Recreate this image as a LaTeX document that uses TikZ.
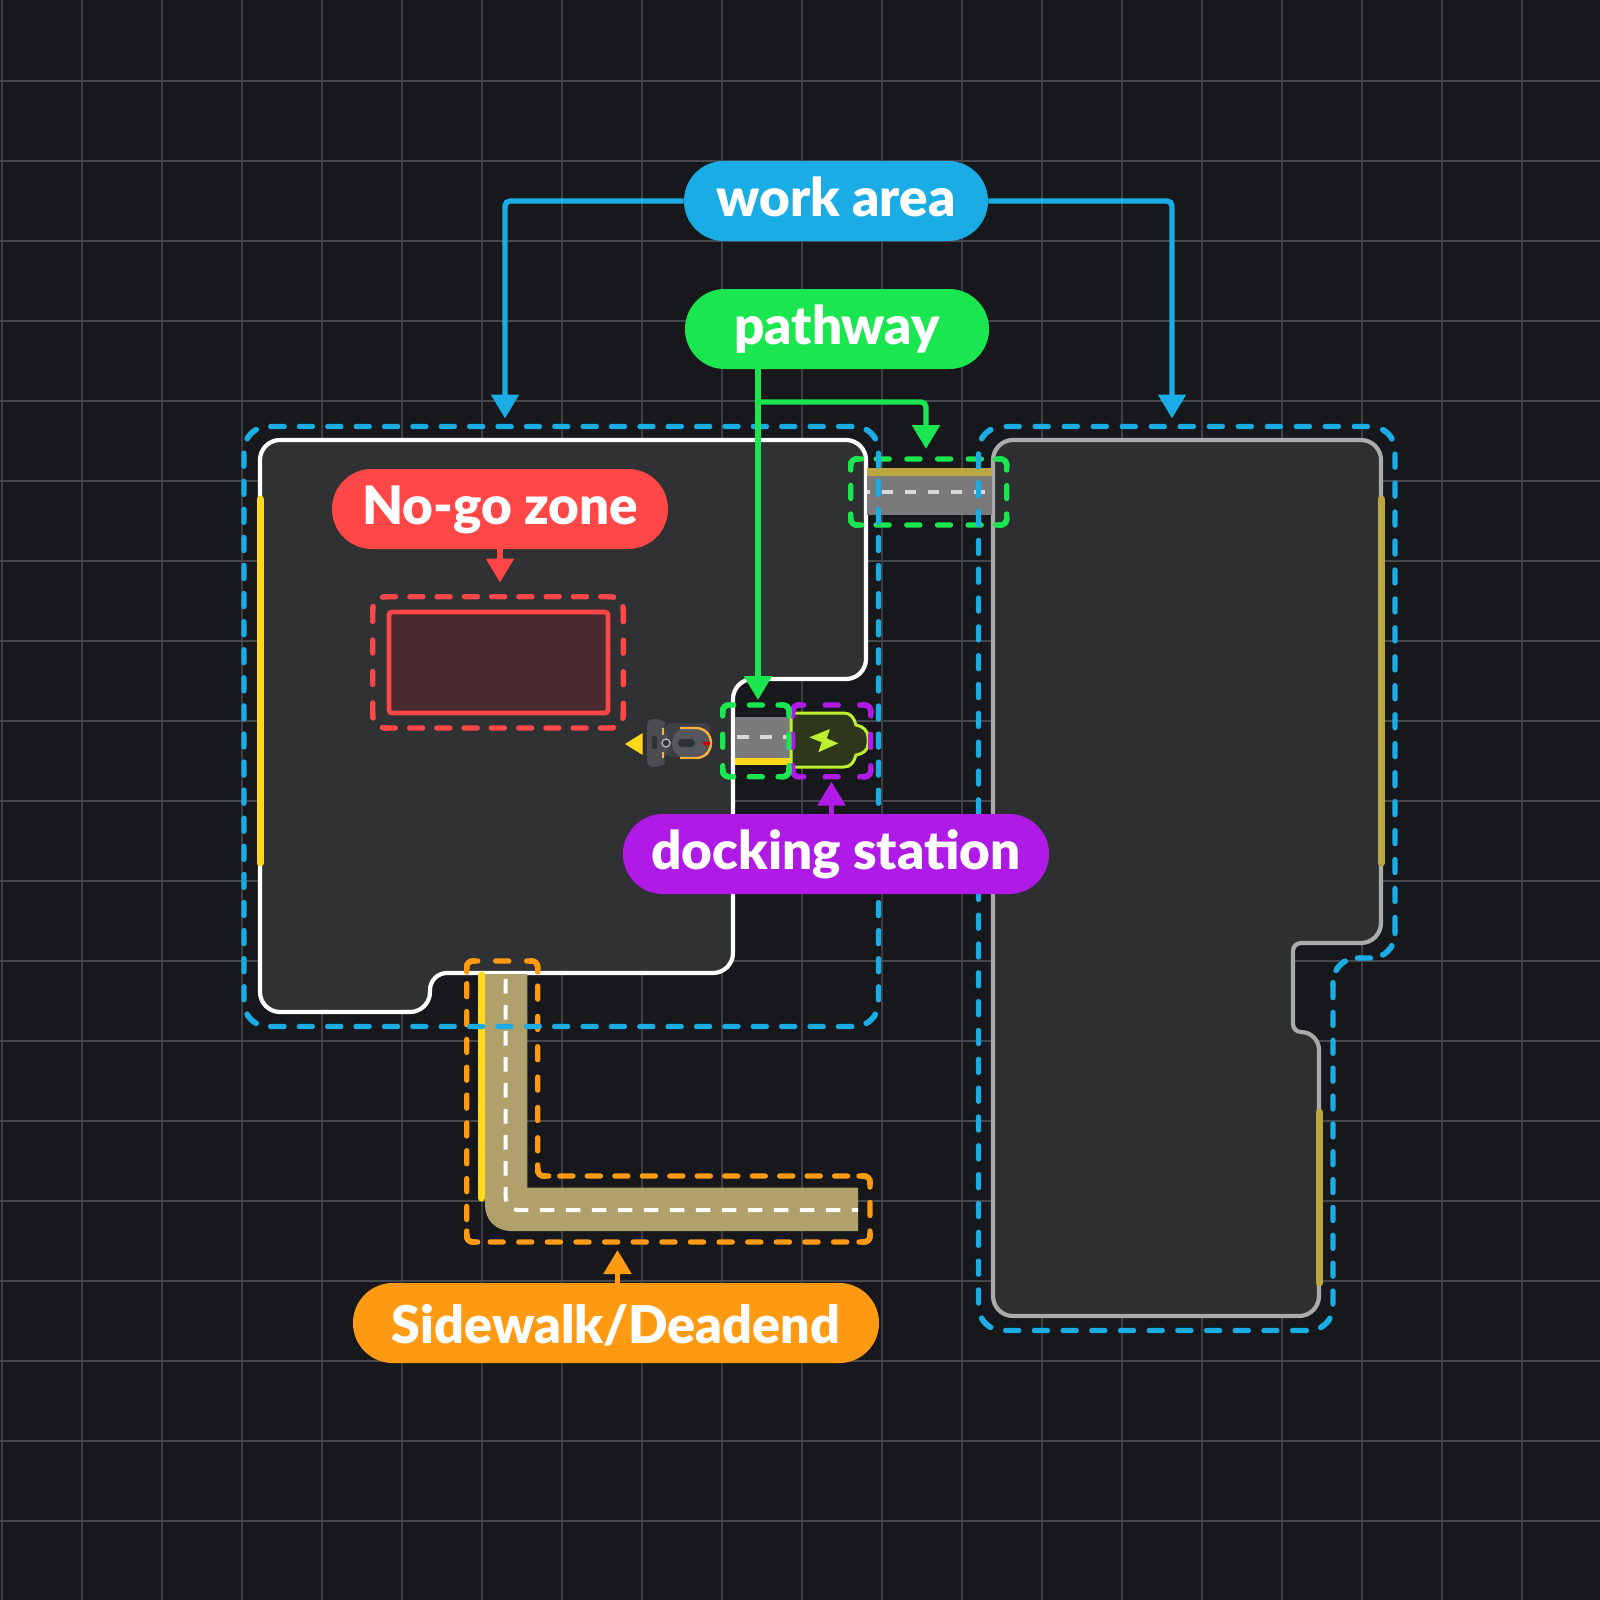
\documentclass[tikz,border=0pt]{standalone}
\usepackage{fontspec}
\setmainfont[BoldFont={Lato Black}]{Lato}
\definecolor{bgc}{HTML}{16181C}
\definecolor{gridv}{HTML}{3D3E44}
\definecolor{gridh}{HTML}{47484D}
\definecolor{landc}{HTML}{303133}
\definecolor{landd}{HTML}{2E2F31}
\definecolor{blueC}{HTML}{1AADE5}
\definecolor{greenC}{HTML}{1AE650}
\definecolor{redC}{HTML}{FF4747}
\definecolor{purpleC}{HTML}{B01AE6}
\definecolor{orangeC}{HTML}{FF9A12}
\definecolor{yellowC}{HTML}{FFD91A}
\definecolor{oliveC}{HTML}{BBA63F}
\definecolor{roadC}{HTML}{7A7A7A}
\definecolor{tanC}{HTML}{B0A06C}
\definecolor{limeC}{HTML}{BDF02E}
\definecolor{battC}{HTML}{2E361C}
\definecolor{nogoC}{HTML}{4A2A2E}
\definecolor{robotA}{HTML}{4A4C52}
\definecolor{robotB}{HTML}{3F4045}
\definecolor{robotC}{HTML}{55575C}
\definecolor{robotD}{HTML}{303135}
\definecolor{robotE}{HTML}{FBB03B}
\usetikzlibrary{arrows.meta}
\tikzset{
  x=0.5pt,y=-0.5pt,
  pill/.style={fill=#1,text=white,rounded corners=19.9pt,minimum height=40pt,inner sep=0pt,text height=18pt,text depth=2.6pt,font=\fontsize{26.5}{28}\selectfont\bfseries},
  conn/.style={draw=#1,line width=2.7pt,rounded corners=2.5pt,-{Triangle[length=12pt,width=13.5pt]}},
  centre/.style={draw=#1,line width=2pt},
  edgeline/.style={draw=#1,line width=3.5pt,line cap=round},
  zcornerline/.style={draw=#1,line width=2.7pt,line cap=round,rounded corners=3pt},
}
\newcommand\zshift{0}
% one dashed side: colour, radius px, periods between corner midpoints, corner distance px, path
\newcommand\zoneside[5]{%
  \pgfmathsetmacro\zper{(#4-2*#2+pi*#2/2)/#3/2}%
  \pgfmathsetmacro\zoff{\zper-6.5}%
  \pgfmathsetmacro\zph{\zper*(1+\zshift)+3.25-(3+pi*#2/4)/2}%
  \pgfmathsetmacro\zrad{#2/2}%
  \draw[draw=#1,line width=2.7pt,line cap=round,rounded corners=\zrad pt,dash pattern=on 6.5pt off \zoff pt,dash phase=\zph pt] #5;%
}
% dashed rectangle: colour, x0,y0,x1,y1, radius px, periods across, periods down
\newcommand\zonerect[8]{%
  \pgfmathsetmacro\zt{#6+3}%
  \pgfmathsetmacro\zw{#4-#2}%
  \pgfmathsetmacro\zh{#5-#3}%
  \zoneside{#1}{#6}{#7}{\zw}{({#2},{#3+\zt}) -- (#2,#3) -- (#4,#3) -- ({#4},{#3+\zt})}
  \zoneside{#1}{#6}{#8}{\zh}{({#4-\zt},{#3}) -- (#4,#3) -- (#4,#5) -- ({#4-\zt},{#5})}
  \zoneside{#1}{#6}{#7}{\zw}{({#4},{#5-\zt}) -- (#4,#5) -- (#2,#5) -- ({#2},{#5-\zt})}
  \zoneside{#1}{#6}{#8}{\zh}{({#2+\zt},{#5}) -- (#2,#5) -- (#2,#3) -- ({#2+\zt},{#3})}
}
% the longer dashes that wrap the corners of a small dashed rectangle
\newcommand\zonecorners[5]{%
  \draw[zcornerline=#1] ({#2},{#3+11}) -- (#2,#3) -- ({#2+11},{#3});
  \draw[zcornerline=#1] ({#4-11},{#3}) -- (#4,#3) -- ({#4},{#3+11});
  \draw[zcornerline=#1] ({#4},{#5-11}) -- (#4,#5) -- ({#4-11},{#5});
  \draw[zcornerline=#1] ({#2+11},{#5}) -- (#2,#5) -- ({#2},{#5-11});
}
\begin{document}
\begin{tikzpicture}
\useasboundingbox (0,0) rectangle (1600,1600);
\fill[bgc] (0,0) rectangle (1600,1600);
\foreach \k in {0,...,19}{
  \draw[gridv,line width=1pt] ({1.5+80*\k},0) -- ({1.5+80*\k},1600);
  \draw[gridh,line width=1pt] (0,{81+80*\k}) -- (1600,{81+80*\k});
}
% land parcels
\draw[draw=white,fill=landc,line width=2.1pt,rounded corners=10pt]
  (500,440) -- (866,440) -- (866,679) -- (733,679) -- (733,973) [rounded corners=8.5pt] -- (430,973) [rounded corners=10pt] -- (430,1012) -- (260,1012) -- (260,440) -- cycle;
\draw[draw=white!67!black,fill=landd,line width=2.1pt,rounded corners=10pt]
  (1200,440) -- (1381,440) -- (1381,943) [rounded corners=4pt] -- (1293,943) -- (1293,1032) [rounded corners=9pt] -- (1319,1032) [rounded corners=10pt] -- (1319,1316) -- (993,1316) -- (993,440) -- cycle;
% boundary strips
\draw[edgeline=yellowC] (260,499) -- (260,863);
\draw[edgeline=oliveC] (1381,499) -- (1381,863);
\draw[edgeline=oliveC] (1319,1112) -- (1319,1283);
% upper road
\fill[roadC] (867,476) rectangle (992,515);
\fill[oliveC] (867,468) rectangle (992,476);
\draw[centre=white!85!black,dash pattern=on 5.75pt off 5.75pt,dash phase=4.25pt] (867,492) -- (985,492);
% dock road
\fill[roadC] (735,717) rectangle (790,758);
\fill[yellowC] (735,758) rectangle (790,765);
\draw[centre=white!85!black,dash pattern=on 5.75pt off 5.75pt] (737,737) -- (790,737);
% sidewalk
\fill[tanC] (485,974) -- (527.3,974) -- (527.3,1187.7) -- (858,1187.7) -- (858,1231) -- (511,1231) .. controls (496,1231) and (485,1220) .. (485,1205) -- cycle;
\draw[line width=3.6pt,yellowC,line cap=round] (481.5,975) -- (481.5,1198);
\draw[centre=white,dash pattern=on 7.25pt off 5.75pt,rounded corners=6pt] (505.7,979) -- (505.7,1210) -- (858,1210);
% no-go rectangle
\draw[draw=redC,fill=nogoC,line width=2.4pt,rounded corners=1.5pt] (389,612) rectangle (608,713);
% battery
\draw[draw=limeC,fill=battC,line width=1.5pt] (791,713) -- (844,713) .. controls (851,713) and (854,718) .. (856,725) .. controls (863,726) and (868,731) .. (868,737) -- (868,744) .. controls (868,750) and (863,754) .. (856,755) .. controls (854,762) and (851,767) .. (844,767) -- (791,767) -- cycle;
\fill[limeC] (830,729) -- (809.3,737.3) -- (821.7,742.3) -- (818.3,752.3) -- (838.3,743.3) -- (826.7,738.3) -- cycle;
% robot
\fill[robotB,rounded corners=3pt] (665,723) rectangle (710,757);
\fill[robotA,rounded corners=3pt] (647,719) -- (660,719) .. controls (665,722) and (664,728) .. (668,733) -- (668,753) .. controls (664,758) and (665,764) .. (660,767) -- (647,767) -- cycle;
\fill[robotC,rounded corners=7.4pt] (672,728) rectangle (711,758);
\draw[robotE,line width=1.2pt,rounded corners=7.4pt] (680,728) -- (711,728) -- (711,758) -- (680,758);
\fill[robotD,rounded corners=1pt] (652,736) rectangle (657,749);
\fill[robotD,rounded corners=2pt] (678,739) rectangle (695,747);
\fill[red!80!black,rounded corners=1pt] (703,741.5) rectangle (710,745.5);
\draw[robotE,line width=0.6pt] (663,728) -- (663,735) (663,752) -- (663,758);
\draw[draw=white!70!black,fill=robotD,line width=0.7pt] (666,743) circle (4);
\fill[yellowC] (625,744) -- (642.7,733) -- (642.7,755) -- cycle;
% dashed zones
\renewcommand\zshift{0.5}
\zonerect{redC}{372.7}{596.7}{623.3}{728}{12}{9}{4}
\renewcommand\zshift{0}
% orange L-shaped zone, side by side
\zoneside{orangeC}{6}{2}{71}{(466.7,970) -- (466.7,961) -- (537.7,961) -- (537.7,970)}
\zoneside{orangeC}{6}{10}{281}{(475.7,961) -- (466.7,961) -- (466.7,1242) -- (475.7,1242)}
\zoneside{orangeC}{6}{14}{403.3}{(466.7,1233) -- (466.7,1242) -- (870,1242) -- (870,1233)}
\zoneside{orangeC}{6}{2}{66}{(861,1242) -- (870,1242) -- (870,1176) -- (861,1176)}
\zoneside{orangeC}{6}{12}{332.3}{(870,1185) -- (870,1176) -- (537.7,1176) -- (537.7,1167)}
\zoneside{orangeC}{6}{7}{215}{(546.7,1176) -- (537.7,1176) -- (537.7,961) -- (528.7,961)}
\draw[zcornerline=orangeC] (466.7,972) -- (466.7,961) -- (477.7,961);
\draw[zcornerline=orangeC] (526.7,961) -- (537.7,961) -- (537.7,972);
\draw[zcornerline=orangeC] (466.7,1231) -- (466.7,1242) -- (477.7,1242);
\draw[zcornerline=orangeC] (859,1242) -- (870,1242) -- (870,1231);
\draw[zcornerline=orangeC] (870,1187) -- (870,1176) -- (859,1176);
\draw[zcornerline=orangeC] (548.7,1176) -- (537.7,1176) -- (537.7,1165);
\zonerect{purpleC}{792.7}{705}{870.7}{776.7}{6}{2}{2}
\zonecorners{purpleC}{792.7}{705}{870.7}{776.7}
\zonerect{greenC}{722.7}{705}{789}{776.7}{6}{2}{2}
\zonecorners{greenC}{722.7}{705}{789}{776.7}
\zonerect{greenC}{850.7}{459}{1006.7}{525}{6}{5}{2}
\zonecorners{greenC}{850.7}{459}{1006.7}{525}
\zonerect{blueC}{244}{426.5}{878.5}{1026.5}{24}{22}{21}
% right work area, side by side
\zoneside{blueC}{24}{14}{416.5}{(978.5,453.5) -- (978.5,426.5) -- (1395,426.5) -- (1395,453.5)}
\zoneside{blueC}{24}{18}{531.5}{(1368,426.5) -- (1395,426.5) -- (1395,958) -- (1368,958)}
\zoneside{blueC}{24}{2}{62}{(1395,931) -- (1395,958) -- (1333,958) -- (1333,985)}
\zoneside{blueC}{24}{13}{372.5}{(1360,958) -- (1333,958) -- (1333,1330.5) -- (1306,1330.5)}
\zoneside{blueC}{24}{12}{354.5}{(1333,1303.5) -- (1333,1330.5) -- (978.5,1330.5) -- (978.5,1303.5)}
\zoneside{blueC}{24}{31}{904}{(1005.5,1330.5) -- (978.5,1330.5) -- (978.5,426.5) -- (1005.5,426.5)}
% labels
\node[pill=blueC,minimum width=152pt] (work) at (836,201) {work area};
\node[pill=greenC,minimum width=152pt] (path) at (837,329) {pathway};
\node[pill=redC,minimum width=168pt] (nogo) at (500,509) {No-go zone};
\node[pill=purpleC,minimum width=213pt] (dock) at (836,854) {docking station};
\node[pill=orangeC,minimum width=263pt,text height=23pt,font=\fontsize{26}{28}\selectfont\bfseries] (side) at (616,1323) {Sidewalk/Deadend};
% connector ends
\coordinate (wl) at (505,418.5);
\coordinate (wr) at (1172,418.5);
\coordinate (pv) at (758,700);
\coordinate (pb) at (926,449);
\coordinate (nz) at (500,582.6);
\coordinate (dz) at (831.5,781.6);
\coordinate (sz) at (617.5,1250);
\draw[conn=blueC] (work.west) -| (wl);
\draw[conn=blueC] (work.east) -| (wr);
\draw[conn=greenC] (path.south -| pv) -- (pv);
\draw[conn=greenC] (pv |- 0,402) -| (pb);
\draw[conn=redC] (nogo.south) -- (nz);
\draw[conn=purpleC] (dock.north -| dz) -- (dz);
\draw[conn=orangeC] (side.north -| sz) -- (sz);
\end{tikzpicture}
\end{document}
